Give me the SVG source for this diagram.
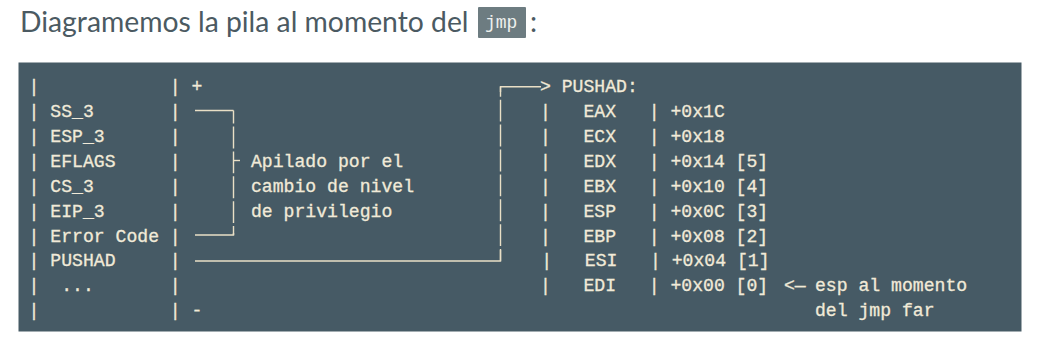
<svg xmlns="http://www.w3.org/2000/svg" width="1058" height="357" viewBox="0 0 1058 357">
  <style>
    .title { font-family: Lato, "Open Sans", sans-serif; font-size: 28.3px; fill: #4b5a62; }
    .inline-bg { fill: #6d7c81; }
    .inline { font-family: "Liberation Mono", "DejaVu Sans Mono", monospace; font-size: 18px; fill: #eef0ee; }
    .block { fill: #465a65; }
    .code { font-family: "Liberation Mono", "DejaVu Sans Mono", monospace; font-size: 18.13px; fill: #f1ead8; stroke: #f1ead8; stroke-width: 0.3; white-space: pre; }
    .line { fill: none; stroke: #e9dfc6; stroke-width: 1.4; }
    .vdash { stroke-dasharray: 21.9 3; }
  </style>

  <!-- heading -->
  <g id="heading">
    <text class="title" x="20" y="32">Diagramemos la pila al momento del</text>
    <rect class="inline-bg" x="478" y="7" width="48" height="31" rx="1"/>
    <text class="inline" x="485" y="28">jmp</text>
    <text class="title" x="530" y="32">:</text>
  </g>

  <!-- code block background -->
  <rect class="block" x="18.5" y="62.5" width="1003" height="269"/>

  <!-- stack frame column (rows every 24.9px, columns every 10.88px from x=28.6) -->
  <g id="stack" class="code">
    <text xml:space="preserve" x="28.6" y="92.1">|            | +</text>
    <text xml:space="preserve" x="28.6" y="117">| SS_3       |</text>
    <text xml:space="preserve" x="28.6" y="141.9">| ESP_3      |</text>
    <text xml:space="preserve" x="28.6" y="166.8">| EFLAGS     |</text>
    <text xml:space="preserve" x="28.6" y="191.7">| CS_3       |</text>
    <text xml:space="preserve" x="28.6" y="216.6">| EIP_3      |</text>
    <text xml:space="preserve" x="28.6" y="241.5">| Error Code |</text>
    <text xml:space="preserve" x="28.6" y="266.4">| PUSHAD     |</text>
    <text xml:space="preserve" x="28.6" y="291.3">|  ...       |</text>
    <text xml:space="preserve" x="28.6" y="316.2">|            | -</text>
  </g>

  <!-- bracket label -->
  <g id="privilege-note" class="code">
    <text xml:space="preserve" x="251" y="166.8">Apilado por el</text>
    <text xml:space="preserve" x="251" y="191.7">cambio de nivel</text>
    <text xml:space="preserve" x="251" y="216.6">de privilegio</text>
  </g>

  <!-- PUSHAD layout -->
  <g id="pushad" class="code">
    <text xml:space="preserve" x="540" y="92.1">&gt; PUSHAD:</text>
    <text xml:space="preserve" x="540" y="117">|   EAX   | +0x1C</text>
    <text xml:space="preserve" x="540" y="141.9">|   ECX   | +0x18</text>
    <text xml:space="preserve" x="540" y="166.8">|   EDX   | +0x14 [5]</text>
    <text xml:space="preserve" x="540" y="191.7">|   EBX   | +0x10 [4]</text>
    <text xml:space="preserve" x="540" y="216.6">|   ESP   | +0x0C [3]</text>
    <text xml:space="preserve" x="540" y="241.5">|   EBP   | +0x08 [2]</text>
    <text xml:space="preserve" x="541.3" y="266.4">|   ESI   | +0x04 [1]</text>
    <text xml:space="preserve" x="540" y="291.3">|   EDI   | +0x00 [0]</text>
  </g>

  <!-- esp note -->
  <g id="esp-note" class="code">
    <text xml:space="preserve" x="784" y="291.3">&lt;—</text>
    <text xml:space="preserve" x="815" y="291.3">esp al momento</text>
    <text xml:space="preserve" x="815" y="316.2">del jmp far</text>
  </g>

  <!-- connectors -->
  <g id="connectors">
    <!-- bracket grouping SS_3 .. Error Code -->
    <path class="line" d="M195,110.5 H233.5"/>
    <path class="line vdash" d="M233.5,110.5 V235" stroke-dashoffset="8.9"/>
    <path class="line" d="M233.5,233 V235 H195"/>
    <path class="line" d="M233.5,160.5 H240"/>
    <!-- PUSHAD entry to register layout -->
    <path class="line" d="M195,261 H500.5 V250"/>
    <path class="line vdash" d="M500.5,261 V86.7" stroke-dashoffset="10"/>
    <path class="line" d="M500.5,92 V86.7 H541"/>
  </g>
</svg>
